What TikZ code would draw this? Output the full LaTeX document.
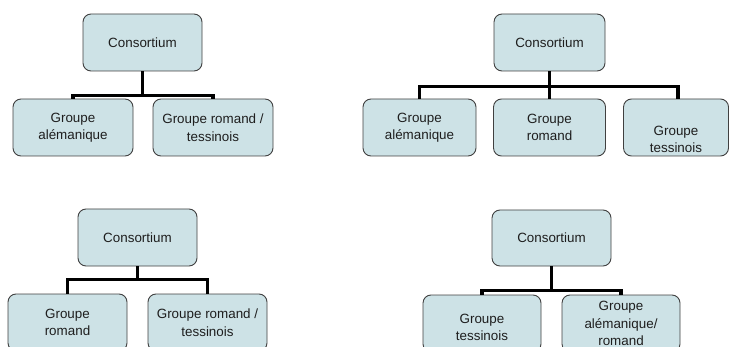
\documentclass[tikz,border=0pt]{standalone}
\usepackage{fontspec}
\setmainfont{Liberation Sans}
\definecolor{boxfill}{RGB}{205,226,230}
\definecolor{boxline}{RGB}{64,64,64}
\definecolor{boxtext}{RGB}{30,30,30}

\begin{document}
\begin{tikzpicture}[x=1pt, y=-1pt,
    every node/.style={font=\fontsize{13.4}{17.5}\selectfont, text=boxtext},
    orgbox/.style={draw=boxline, line width=0.9pt, fill=boxfill, rounded corners=8pt,
      rectangle, minimum width=119pt, minimum height=57pt, align=center, inner sep=2pt},
    link/.style={line width=3.5pt, black}]
  \useasboundingbox (0,0) rectangle (730,347);

  % top left
  \node[orgbox] (cons1) at (142.5,42.5) {Consortium};
  \node[orgbox, minimum width=120pt] (ale1) at (73,127.5) {Groupe\\alémanique};
  \node[orgbox, minimum width=120pt] (romtes1) at (213,127.5) {Groupe romand /\\tessinois};
  \draw[link] (cons1.south) -- ++(0,24) coordinate (j1);
  \draw[link] (ale1.north) |- (j1) -| (romtes1.north);

  % top right
  \node[orgbox, minimum width=111pt] (cons2) at (549.5,42.5) {Consortium};
  \node[orgbox, minimum width=113pt] (ale2) at (419.5,127.5) {Groupe\\alémanique};
  \node[orgbox, minimum width=112pt] (rom2) at (549.5,127.5) {Groupe\\romand};
  \node[orgbox, minimum width=105pt,
    label={[align=center, yshift=-12pt]center:Groupe\\tessinois}] (tes2) at (676,127.5) {};
  \path (cons2.south) ++(0,15) coordinate (j2);
  \draw[link] (cons2.south) -- (rom2.north);
  \draw[link] (ale2.north) |- (j2) -| ([xshift=2pt]tes2.north);

  % bottom left
  \node[orgbox] (cons3) at (137.5,237.5) {Consortium};
  \node[orgbox] (rom3) at (67.5,322.5) {Groupe\\romand};
  \node[orgbox] (romtes3) at (207.5,322.5) {Groupe romand /\\tessinois};
  \draw[link] (cons3.south) -- ++(0,13) coordinate (j3);
  \draw[link] (rom3.north) |- (j3) -| (romtes3.north);

  % bottom right
  \node[orgbox, minimum height=56pt] (cons4) at (551.5,238) {Consortium};
  \node[orgbox, minimum width=118pt,
    label={[align=center, yshift=-4pt]center:Groupe\\tessinois}] (tes4) at (482,323.5) {};
  \node[orgbox, minimum width=118pt] (alerom4) at (621,323.5) {Groupe\\alémanique/\\romand};
  \draw[link] (cons4.south) -- ++(0,24) coordinate (j4);
  \draw[link] (tes4.north) |- (j4) -| (alerom4.north);
\end{tikzpicture}
\end{document}
